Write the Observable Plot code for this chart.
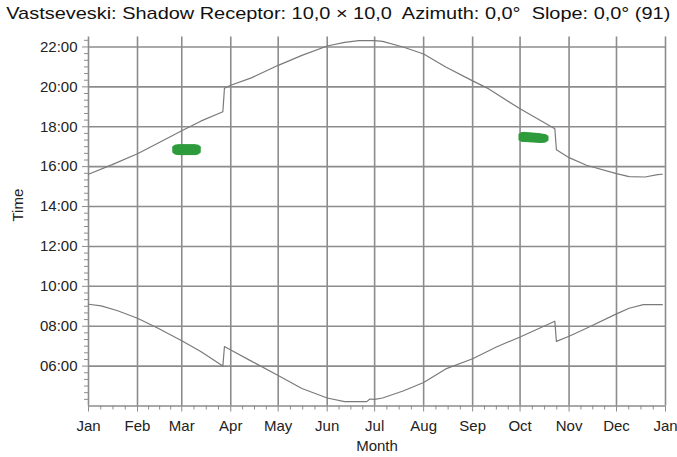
<!DOCTYPE html>
<html><head><meta charset="utf-8">
<script src="https://cdn.jsdelivr.net/npm/d3@7"></script>
<script src="https://cdn.jsdelivr.net/npm/@observablehq/plot@0.6"></script>
<style>
body{margin:0;background:#fff;font-family:"Liberation Sans",Arial,sans-serif;}
#title{height:30px;line-height:28px;font-size:17px;white-space:nowrap;color:#111;text-align:center;}
</style></head><body>
<div id="title">Vastseveski: Shadow Receptor: 10,0 × 10,0&nbsp; Azimuth: 0,0°&nbsp; Slope: 0,0° (91)</div>
<div id="chart"></div>
<script>
// Upper curve (sunset, local clock time in hours)
const upperDates = ["2023-01-01","2023-01-16","2023-02-01","2023-02-12","2023-03-01","2023-03-13","2023-03-27","2023-03-28","2023-04-01","2023-04-14","2023-05-01","2023-05-16","2023-06-01","2023-06-12","2023-06-21","2023-07-01","2023-07-06","2023-07-19","2023-08-01","2023-08-15","2023-09-01","2023-09-10","2023-10-01","2023-10-23","2023-10-24","2023-11-01","2023-11-12","2023-12-01","2023-12-09","2023-12-19","2023-12-27","2023-12-30"];
const upperTimes = [15.62,16.1,16.65,17.1,17.8,18.28,18.75,19.93,20.08,20.45,21.08,21.58,22.05,22.23,22.32,22.32,22.28,22.0,21.65,21.0,20.3,19.95,18.9,17.9,16.85,16.45,16.07,15.65,15.5,15.48,15.6,15.62];

// Lower curve (sunrise)
const lowerDates = ["2023-01-01","2023-01-09","2023-01-19","2023-02-01","2023-02-14","2023-03-01","2023-03-13","2023-03-27","2023-03-28","2023-04-01","2023-04-14","2023-05-01","2023-05-16","2023-06-01","2023-06-12","2023-06-26","2023-06-28","2023-07-01","2023-07-06","2023-07-19","2023-08-01","2023-08-15","2023-09-01","2023-09-16","2023-10-01","2023-10-23","2023-10-24","2023-11-01","2023-11-12","2023-12-01","2023-12-09","2023-12-18","2023-12-30"];
const lowerTimes = [9.1,9.02,8.79,8.4,7.9,7.27,6.73,6.0,6.98,6.81,6.25,5.53,4.88,4.4,4.22,4.22,4.35,4.33,4.4,4.75,5.18,5.86,6.37,6.96,7.46,8.25,7.24,7.5,7.9,8.62,8.9,9.08,9.08];

// Shadow flicker occurrences (per day start / end time)
const flickerDates = ["2023-02-24","2023-02-25","2023-02-26","2023-02-27","2023-02-28","2023-03-01","2023-03-02","2023-03-03","2023-03-04","2023-03-05","2023-03-06","2023-03-07","2023-03-08","2023-03-09","2023-03-10","2023-03-11","2023-03-12",
  "2023-10-01","2023-10-02","2023-10-03","2023-10-04","2023-10-05","2023-10-06","2023-10-07","2023-10-08","2023-10-09","2023-10-10","2023-10-11","2023-10-12","2023-10-13","2023-10-14","2023-10-15","2023-10-16","2023-10-17","2023-10-18"];
const flickerStart = [16.72,16.66,16.64,16.63,16.63,16.63,16.63,16.63,16.63,16.63,16.63,16.63,16.63,16.63,16.64,16.66,16.72,
  17.35,17.30,17.29,17.29,17.28,17.28,17.27,17.27,17.26,17.26,17.25,17.25,17.24,17.24,17.24,17.25,17.27,17.32];
const flickerEnd = [16.95,17.01,17.02,17.03,17.03,17.03,17.03,17.03,17.03,17.03,17.03,17.03,17.03,17.03,17.02,17.01,16.95,
  17.58,17.63,17.64,17.64,17.63,17.63,17.62,17.62,17.61,17.61,17.60,17.59,17.58,17.57,17.56,17.55,17.53,17.48];

// Axis ticks and labels
const monthTicks = ["2023-01-01","2023-02-01","2023-03-01","2023-04-01","2023-05-01","2023-06-01","2023-07-01","2023-08-01","2023-09-01","2023-10-01","2023-11-01","2023-12-01","2024-01-01"];
const monthLabels = ["Jan","Feb","Mar","Apr","May","Jun","Jul","Aug","Sep","Oct","Nov","Dec","Jan"];
const hourTicks = [6,8,10,12,14,16,18,20,22];
const hourLabels = ["06:00","08:00","10:00","12:00","14:00","16:00","18:00","20:00","22:00"];

const P = s => new Date(s + "T00:00:00Z");
const upper = upperDates.map((d,i) => ({date: P(d), t: upperTimes[i]}));
const lower = lowerDates.map((d,i) => ({date: P(d), t: lowerTimes[i]}));
const flicker = flickerDates.map((d,i) => ({date: P(d), start: flickerStart[i], end: flickerEnd[i]}));
const mTicks = monthTicks.map(P);

// minor ticks: quarter months on x, 20 minutes on y
const minorX = [];
for (let i = 0; i < mTicks.length - 1; i++) {
  const a = +mTicks[i], b = +mTicks[i+1];
  for (let k = 1; k < 4; k++) minorX.push(new Date(a + (b - a) * k / 4));
}
const minorY = [];
for (let m = 240; m <= 1340; m += 20) if (m % 120 !== 0) minorY.push(m / 60);

const gridColor = "#8c8c8c";
const chart = Plot.plot({
  width: 677, height: 427,
  marginTop: 6.5, marginLeft: 88, marginRight: 12, marginBottom: 51.5,
  style: {fontFamily: "'Liberation Sans', Arial, sans-serif", fontSize: "15px", color: "#222", background: "#fff"},
  x: {type: "utc", domain: [P("2023-01-01"), P("2024-01-01")]},
  y: {domain: [4, 22.5]},
  marks: [
    Plot.gridX(mTicks, {stroke: gridColor, strokeOpacity: 1, strokeWidth: 1.6}),
    Plot.gridY(hourTicks, {stroke: gridColor, strokeOpacity: 1, strokeWidth: 1.6}),
    Plot.ruleY([4], {stroke: gridColor, strokeWidth: 1.6}),
    Plot.axisY({ticks: minorY, tickSize: 4, tickFormat: () => "", stroke: gridColor, label: null}),
    Plot.axisY({ticks: hourTicks, tickSize: 6, tickPadding: 5, fontSize: 15, tickFormat: d => hourLabels[hourTicks.indexOf(d)], stroke: gridColor, label: null}),
    Plot.axisX({ticks: minorX, tickSize: 4, tickFormat: () => "", stroke: gridColor, label: null}),
    Plot.axisX({ticks: mTicks, tickSize: 6, tickPadding: 8, fontSize: 15, tickFormat: d => monthLabels[mTicks.findIndex(t => +t === +d)], stroke: gridColor, label: null}),
    Plot.text(["Time"], {frameAnchor: "left", dx: -70, rotate: -90, fontSize: 15, fill: "#222"}),
    Plot.text(["Month"], {frameAnchor: "bottom", dy: 45, fontSize: 15, fill: "#222"}),
    Plot.line(upper, {x: "date", y: "t", stroke: "#7a7a7a", strokeWidth: 1.2}),
    Plot.line(lower, {x: "date", y: "t", stroke: "#7a7a7a", strokeWidth: 1.2}),
    Plot.ruleX(flicker, {x: "date", y1: "start", y2: "end", stroke: "#2e9b3c", strokeWidth: 3.2, strokeLinecap: "round"})
  ]
});
document.getElementById("chart").appendChild(chart);

// stretch title horizontally to match reference width
const title = document.getElementById("title");
const span = document.createElement("span");
span.innerHTML = title.innerHTML; title.innerHTML = ""; title.appendChild(span);
span.style.display = "inline-block";
const w = span.getBoundingClientRect().width;
const target = 664;
span.style.transform = `scaleX(${target / w})`;
</script>
</body></html>
